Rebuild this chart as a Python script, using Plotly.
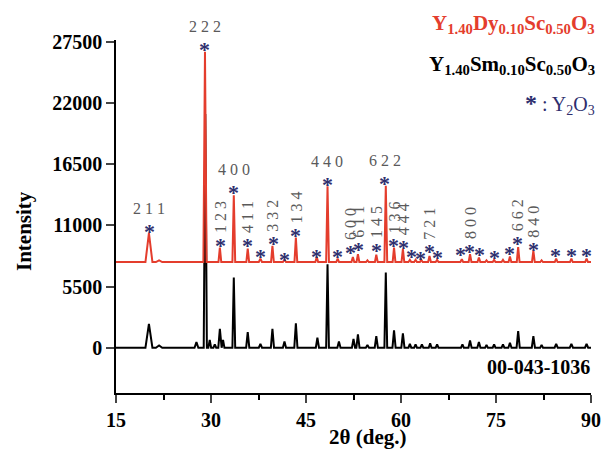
import plotly.graph_objects as go

# ---------------- data ----------------
x_tick_vals = [15, 30, 45, 60, 75, 90]
y_tick_vals = [0, 5500, 11000, 16500, 22000, 27500]

# black pattern (00-043-1036 reference sample), baseline 0
black_pos = [20.2, 21.8, 27.7, 29.1, 29.8, 30.6, 31.4, 31.9, 33.6, 35.8, 37.8, 39.7, 41.6, 43.4,
             46.8, 48.4, 50.2, 52.5, 53.2, 54.7, 56.1, 57.6, 58.9, 60.3, 61.4, 62.3, 63.3, 64.6,
             65.7, 69.7, 70.9, 72.3, 73.5, 74.7, 76.1, 77.2, 78.5, 80.9, 82.2, 84.5, 86.9, 89.3]
black_h = [2150, 200, 500, 21000, 700, 300, 1700, 700, 6300, 1400, 350, 1700, 550, 2200,
           900, 7500, 550, 800, 1200, 250, 1050, 6750, 1550, 1300, 350, 300, 300, 400,
           300, 300, 650, 500, 250, 300, 300, 450, 1500, 1050, 250, 350, 350, 350]
black_w = [0.55, 0.5, 0.3, 0.25, 0.22, 0.22, 0.25, 0.22, 0.22, 0.25, 0.25, 0.25, 0.25, 0.25,
           0.25, 0.22, 0.25, 0.25, 0.25, 0.25, 0.25, 0.22, 0.25, 0.25, 0.22, 0.22, 0.22, 0.22,
           0.22, 0.22, 0.25, 0.25, 0.22, 0.22, 0.22, 0.25, 0.25, 0.25, 0.22, 0.25, 0.25, 0.25]

# red pattern (Y1.40Dy0.10Sc0.50O3), offset baseline
red_base = 7700
red_pos = [20.2, 21.8, 29.05, 31.4, 33.6, 35.8, 37.8, 39.7, 41.6, 43.4, 46.7, 48.4, 50.0,
           52.4, 53.2, 54.7, 56.1, 57.6, 58.9, 60.3, 61.4, 62.3, 63.2, 64.5, 65.7, 69.6,
           70.9, 72.3, 73.5, 74.7, 76.1, 77.2, 78.5, 80.9, 82.2, 84.5, 86.9, 89.3]
red_h = [2600, 150, 18900, 1300, 6000, 1200, 300, 1450, 200, 2200, 450, 6800, 300,
         450, 700, 150, 650, 6850, 1300, 1150, 200, 200, 200, 550, 200, 250,
         700, 400, 150, 200, 200, 500, 1350, 1000, 150, 300, 300, 300]
red_w = [0.55, 0.5, 0.25, 0.22, 0.22, 0.22, 0.25, 0.22, 0.25, 0.22, 0.22, 0.22, 0.22,
         0.22, 0.22, 0.22, 0.22, 0.22, 0.22, 0.22, 0.22, 0.22, 0.22, 0.22, 0.22, 0.22,
         0.22, 0.22, 0.22, 0.22, 0.22, 0.22, 0.22, 0.22, 0.22, 0.22, 0.22, 0.22]

# Y2O3 marker stars and hkl labels
star_x = [20.21, 29.05, 31.53, 33.63, 35.79, 37.78, 39.79, 41.68, 43.42, 46.69, 48.36, 50.01,
          51.95, 53.26, 56.16, 57.47, 58.89, 60.36, 61.58, 63.0, 64.47, 65.73, 69.43, 70.89,
          72.36, 74.84, 77.1, 78.43, 80.89, 84.47, 86.95, 89.32]
star_y = [10990, 27350, 9730, 14520, 9730, 8770, 9890, 8480, 10630, 8770, 15220, 8770,
          9130, 9370, 9280, 15280, 9730, 9580, 8770, 8540, 9190, 8680, 8900, 9220,
          8900, 8680, 8990, 9890, 9370, 8830, 8830, 8830]
star_hkl = ["2 1 1", "2 2 2", "1 2 3", "4 0 0", "4 1 1", "", "3 3 2", "", "1 3 4", "", "4 4 0", "",
            "6 0 0", "6 1 1", "1 4 5", "6 2 2", "1 3 6", "4 4 4", "", "", "7 2 1", "", "", "8 0 0",
            "", "", "", "6 6 2", "8 4 0", "", "", ""]
horizontal_hkl = ["2 1 1", "2 2 2", "4 0 0", "4 4 0", "6 2 2"]

# ---------------- styling ----------------
RED = "#e43d2d"
NAVY = "#2e2e6e"
GRAY = "#5a5a5a"
SERIF = "Liberation Serif, Times New Roman, serif"
X0, X1 = 15, 90


def profile(pos, h, w, base):
    xs, ys = [X0], [base]
    for p, hh, ww in sorted(zip(pos, h, w)):
        xs += [p - ww, p, p + ww]
        ys += [base, base + hh, base]
    xs.append(X1)
    ys.append(base)
    return xs, ys


bx, by = profile(black_pos, black_h, black_w, 0)
rx, ry = profile(red_pos, red_h, red_w, red_base)

fig = go.Figure()
fig.add_trace(go.Scatter(x=bx, y=by, mode="lines", line=dict(color="black", width=2),
                         showlegend=False, hoverinfo="skip"))
fig.add_trace(go.Scatter(x=rx, y=ry, mode="lines", line=dict(color=RED, width=2),
                         showlegend=False, hoverinfo="skip"))

annotations = []
for x, y, hkl in zip(star_x, star_y, star_hkl):
    annotations.append(dict(x=x, y=y, xref="x", yref="y", text="<b>*</b>", showarrow=False,
                            font=dict(family=SERIF, size=22, color=NAVY), yshift=-6))
    if hkl:
        if hkl in horizontal_hkl:
            annotations.append(dict(x=x, y=y, xref="x", yref="y", text=hkl, showarrow=False,
                                    font=dict(family=SERIF, size=16, color=GRAY),
                                    yanchor="middle", yshift=17))
        else:
            annotations.append(dict(x=x, y=y, xref="x", yref="y", text=hkl, showarrow=False,
                                    textangle=-90, font=dict(family=SERIF, size=16, color=GRAY),
                                    yanchor="bottom", yshift=4))

annotations += [
    dict(x=1.013, y=1.045, xref="paper", yref="paper", xanchor="right", yanchor="middle",
         text="<b>Y<sub>1.40</sub>Dy<sub>0.10</sub>Sc<sub>0.50</sub>O<sub>3</sub></b>",
         showarrow=False, font=dict(family=SERIF, size=21, color=RED)),
    dict(x=1.013, y=0.93, xref="paper", yref="paper", xanchor="right", yanchor="middle",
         text="<b>Y<sub>1.40</sub>Sm<sub>0.10</sub>Sc<sub>0.50</sub>O<sub>3</sub></b>",
         showarrow=False, font=dict(family=SERIF, size=21, color="black")),
    dict(x=1.013, y=0.82, xref="paper", yref="paper", xanchor="right", yanchor="middle",
         text="<b><span style='font-size:24px'>*</span></b> : Y<sub>2</sub>O<sub>3</sub>",
         showarrow=False, font=dict(family=SERIF, size=20, color=NAVY)),
    dict(x=1.003, y=0.075, xref="paper", yref="paper", xanchor="right", yanchor="middle",
         text="<b>00-043-1036</b>", showarrow=False,
         font=dict(family=SERIF, size=20, color="black")),
    dict(x=-0.195, y=0.46, xref="paper", yref="paper", xanchor="center", yanchor="middle",
         text="<b>Intensity</b>", textangle=-90, showarrow=False,
         font=dict(family=SERIF, size=21, color="black")),
    dict(x=0.53, y=-0.125, xref="paper", yref="paper", xanchor="center", yanchor="middle",
         text="<b>2θ (deg.)</b>", showarrow=False,
         font=dict(family=SERIF, size=21, color="black")),
]

tickfont = dict(family=SERIF, size=20, color="black", weight="bold")

fig.update_layout(
    width=602, height=451,
    margin=dict(l=116, r=11, t=40, b=58, autoexpand=False),
    paper_bgcolor="white", plot_bgcolor="white",
    showlegend=False,
    annotations=annotations,
    xaxis=dict(range=[X0, X1], tickvals=x_tick_vals, ticks="outside", ticklen=8, tickwidth=1.5,
               showline=True, linecolor="black", linewidth=1.5, showgrid=False, zeroline=False,
               automargin=False, tickfont=tickfont,
               minor=dict(dtick=7.5, tick0=15, ticks="outside", ticklen=5, tickwidth=1.5, tickcolor="black")),
    yaxis=dict(range=[-4070, 27650], tickvals=y_tick_vals, ticks="outside", ticklen=8, tickwidth=1.5,
               showline=True, linecolor="black", linewidth=1.5, showgrid=False, zeroline=False,
               automargin=False, tickfont=tickfont, tickformat="d"),
)

# remove the default page margin so the 602x451 figure fills the window exactly
fig.write_html("out.html", config={"displayModeBar": False},
               post_script="document.body.style.margin='0';document.body.style.overflow='hidden';")
